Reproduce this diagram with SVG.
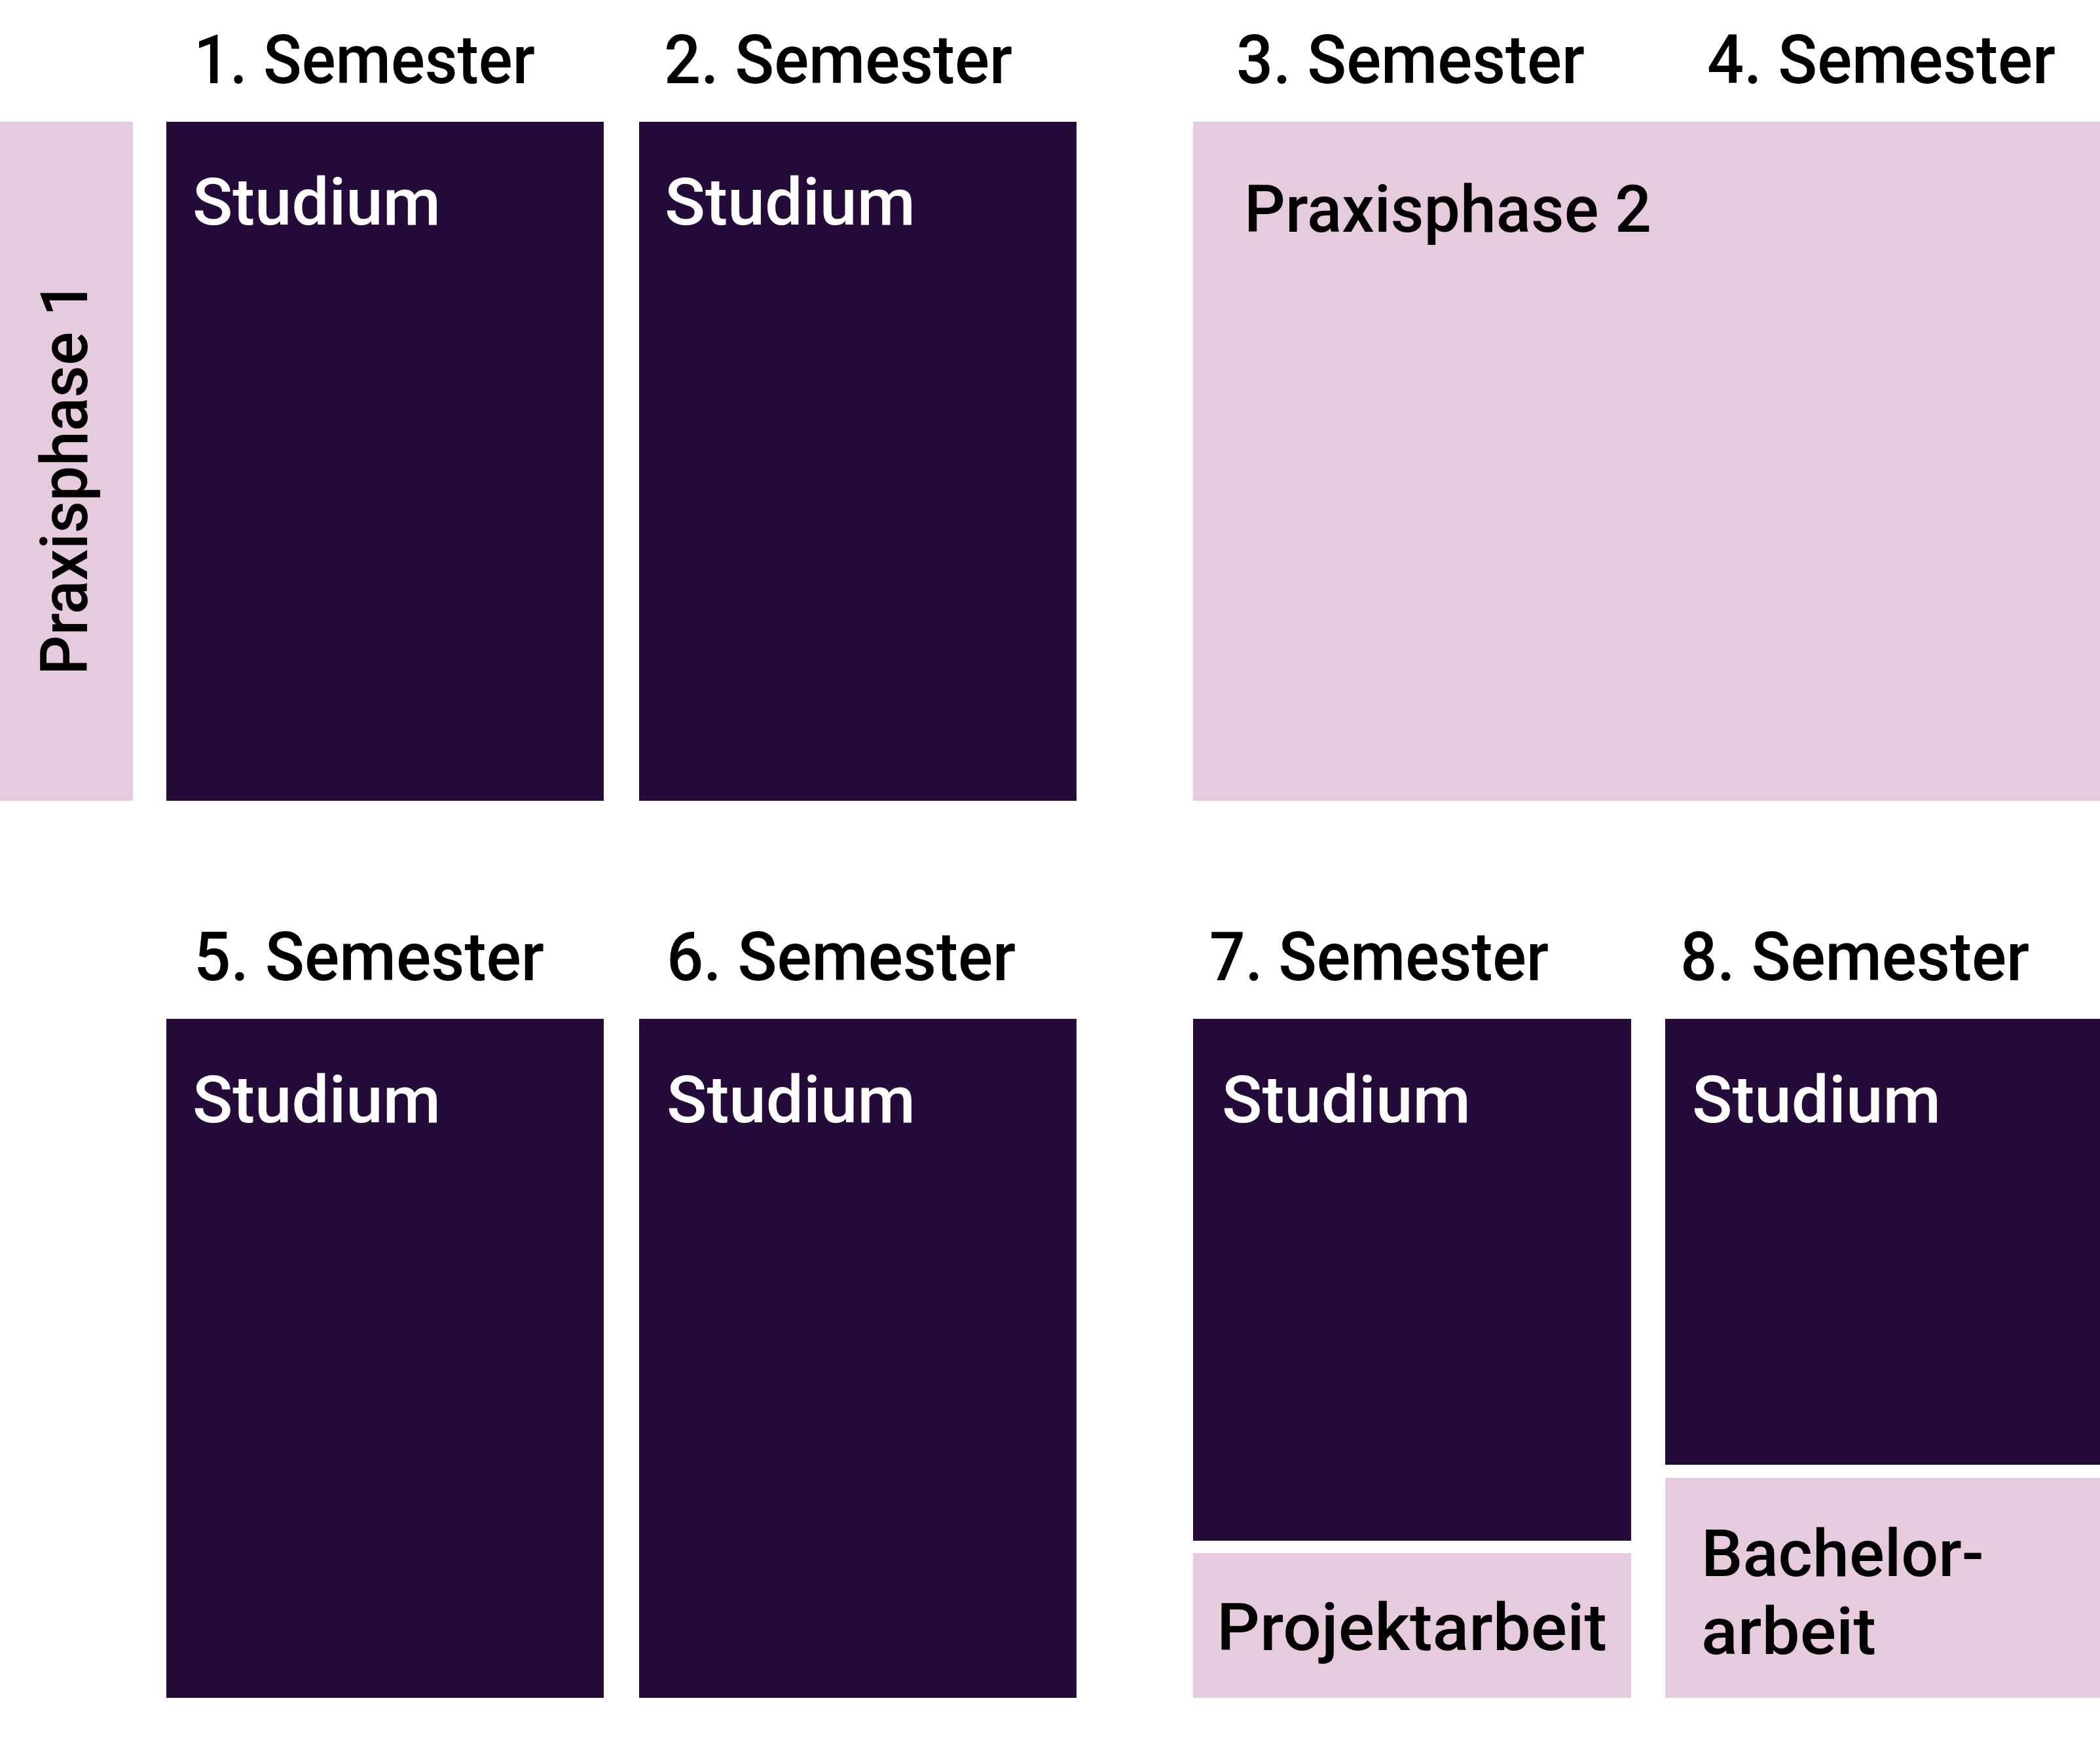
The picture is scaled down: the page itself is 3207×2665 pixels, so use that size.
<svg xmlns="http://www.w3.org/2000/svg" width="3207" height="2665" viewBox="0 0 3207 2665">
  <style>
    .dark { fill: #250b39; }
    .pink { fill: #e5cbdd; }
    .lbl { font-family: Roboto, "Liberation Sans", Arial, sans-serif; font-weight: 500; font-size: 104px; fill: #000000; }
    .wt { font-family: Roboto, "Liberation Sans", Arial, sans-serif; font-weight: 500; font-size: 100px; fill: #ffffff; }
    .bk { font-family: Roboto, "Liberation Sans", Arial, sans-serif; font-weight: 500; font-size: 100px; fill: #000000; }
  </style>
  <rect width="3207" height="2665" fill="#ffffff"/>

  <g id="headers">
    <text class="lbl" x="296" y="127" textLength="521" lengthAdjust="spacingAndGlyphs">1. Semester</text>
    <text class="lbl" x="1014" y="127" textLength="532" lengthAdjust="spacingAndGlyphs">2. Semester</text>
    <text class="lbl" x="1888" y="127" textLength="532" lengthAdjust="spacingAndGlyphs">3. Semester</text>
    <text class="lbl" x="2607" y="127" textLength="532" lengthAdjust="spacingAndGlyphs">4. Semester</text>
    <text class="lbl" x="296" y="1497" textLength="535" lengthAdjust="spacingAndGlyphs">5. Semester</text>
    <text class="lbl" x="1018" y="1497" textLength="533" lengthAdjust="spacingAndGlyphs">6. Semester</text>
    <text class="lbl" x="1847" y="1497" textLength="518" lengthAdjust="spacingAndGlyphs">7. Semester</text>
    <text class="lbl" x="2566" y="1497" textLength="533" lengthAdjust="spacingAndGlyphs">8. Semester</text>
  </g>

  <g id="praxisphase1">
    <rect class="pink" x="0" y="186" width="203" height="1037"/>
    <text class="bk" transform="translate(133,1031) rotate(-90)" x="0" y="0" textLength="602" lengthAdjust="spacingAndGlyphs">Praxisphase 1</text>
  </g>
  <g id="studium1">
    <rect class="dark" x="254" y="186" width="668" height="1037"/>
    <text class="wt" x="294" y="343" textLength="379" lengthAdjust="spacingAndGlyphs">Studium</text>
  </g>
  <g id="studium2">
    <rect class="dark" x="976" y="186" width="668" height="1037"/>
    <text class="wt" x="1015" y="343" textLength="383" lengthAdjust="spacingAndGlyphs">Studium</text>
  </g>
  <g id="praxisphase2">
    <rect class="pink" x="1822" y="186" width="1385" height="1037"/>
    <text class="bk" x="1900" y="354" textLength="622" lengthAdjust="spacingAndGlyphs">Praxisphase 2</text>
  </g>

  <g id="studium5">
    <rect class="dark" x="254" y="1556" width="668" height="1037"/>
    <text class="wt" x="294" y="1714" textLength="379" lengthAdjust="spacingAndGlyphs">Studium</text>
  </g>
  <g id="studium6">
    <rect class="dark" x="976" y="1556" width="668" height="1037"/>
    <text class="wt" x="1018" y="1714" textLength="380" lengthAdjust="spacingAndGlyphs">Studium</text>
  </g>
  <g id="studium7">
    <rect class="dark" x="1822" y="1556" width="669" height="797"/>
    <text class="wt" x="1866" y="1714" textLength="380" lengthAdjust="spacingAndGlyphs">Studium</text>
  </g>
  <g id="projektarbeit">
    <rect class="pink" x="1822" y="2372" width="669" height="221"/>
    <text class="bk" x="1858" y="2520" textLength="596" lengthAdjust="spacingAndGlyphs">Projektarbeit</text>
  </g>
  <g id="studium8">
    <rect class="dark" x="2543" y="1556" width="664" height="681"/>
    <text class="wt" x="2584" y="1714" textLength="380" lengthAdjust="spacingAndGlyphs">Studium</text>
  </g>
  <g id="bachelorarbeit">
    <rect class="pink" x="2543" y="2257" width="664" height="336"/>
    <text class="bk" x="2598" y="2407" textLength="432" lengthAdjust="spacingAndGlyphs">Bachelor-</text>
    <text class="bk" x="2598" y="2526" textLength="267" lengthAdjust="spacingAndGlyphs">arbeit</text>
  </g>

  <g id="connectors"/>
</svg>
